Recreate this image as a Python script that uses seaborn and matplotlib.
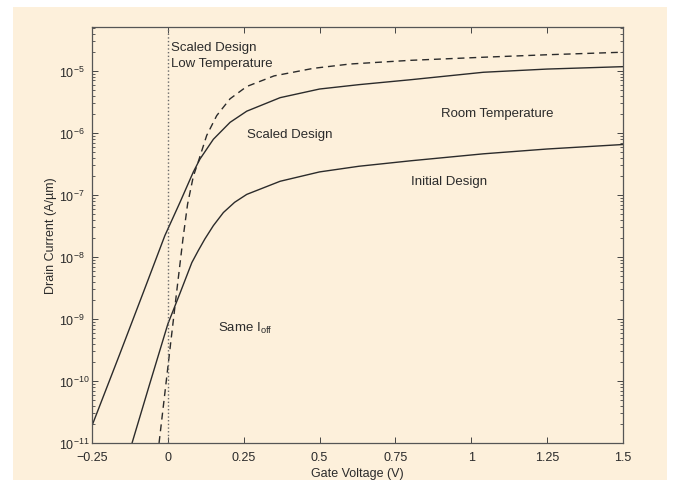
import matplotlib
matplotlib.use("Agg")
import matplotlib.pyplot as plt
import matplotlib.patches as mpatches
from matplotlib.ticker import FixedLocator, FixedFormatter, NullFormatter
import pandas as pd
import seaborn as sns

# ---------- data ----------
scaled_v = [-0.25, -0.16, -0.08, -0.01, 0.04, 0.084, 0.106, 0.15, 0.205, 0.26,
            0.37, 0.50, 0.63, 0.80, 1.04, 1.25, 1.50]
scaled_i = [1.9e-11, 2.6e-10, 2.75e-9, 2.2e-8, 7.6e-8, 2.35e-7, 3.8e-7, 7.9e-7,
            1.48e-6, 2.24e-6, 3.7e-6, 5.1e-6, 6.0e-6, 7.2e-6, 9.5e-6, 1.07e-5,
            1.17e-5]

lowtemp_v = [-0.029, -0.01, 0.01, 0.03, 0.05, 0.065, 0.084, 0.10, 0.128, 0.161,
             0.205, 0.26, 0.35, 0.48, 0.60, 0.80, 1.04, 1.25, 1.50]
lowtemp_i = [1.0e-11, 6.3e-11, 4.4e-10, 3.0e-9, 2.0e-8, 7.1e-8, 2.0e-7, 3.4e-7,
             9.1e-7, 1.9e-6, 3.55e-6, 5.6e-6, 8.3e-6, 1.1e-5, 1.29e-5, 1.48e-5,
             1.66e-5, 1.82e-5, 2.0e-5]

initial_v = [-0.118, -0.06, 0.0, 0.04, 0.079, 0.10, 0.122, 0.15, 0.183, 0.22,
             0.26, 0.37, 0.50, 0.63, 0.80, 1.04, 1.25, 1.50]
initial_i = [1.0e-11, 8.9e-11, 8.3e-10, 2.6e-9, 8.1e-9, 1.26e-8, 1.95e-8, 3.2e-8,
             5.2e-8, 7.6e-8, 1.02e-7, 1.66e-7, 2.35e-7, 2.9e-7, 3.55e-7, 4.6e-7,
             5.5e-7, 6.5e-7]

x_ticks = [-0.25, 0, 0.25, 0.5, 0.75, 1, 1.25, 1.5]
x_tick_labels = ["\u22120.25", "0", "0.25", "0.5", "0.75", "1", "1.25", "1.5"]
y_decades = [-11, -10, -9, -8, -7, -6, -5]
y_top = 5.1e-5

CREAM = "#fdf0db"
INK = "#2b2b2b"

sns.set_theme(style="ticks")
plt.rcParams["font.family"] = ["Liberation Sans", "DejaVu Sans"]
plt.rcParams["mathtext.fontset"] = "custom"
plt.rcParams["mathtext.rm"] = "Liberation Sans"
plt.rcParams["mathtext.it"] = "Liberation Sans:italic"
plt.rcParams["mathtext.bf"] = "Liberation Sans:bold"
plt.rcParams["xtick.direction"] = "in"
plt.rcParams["ytick.direction"] = "in"
plt.rcParams["xtick.top"] = True
plt.rcParams["ytick.right"] = True

fig = plt.figure(figsize=(6.75, 4.81), dpi=100, facecolor="white")
# scanned page area (white margin on the left, top and right)
page = mpatches.Rectangle((13 / 675, 0), (667 - 13) / 675, (481 - 8) / 481,
                          transform=fig.transFigure, facecolor=CREAM,
                          edgecolor="none", zorder=-10)
fig.patches.append(page)
ax = fig.add_axes([92 / 675, 1 - 444 / 481, (623 - 92) / 675, (444 - 28) / 481])
ax.set_facecolor(CREAM)

df_scaled = pd.DataFrame({"v": scaled_v, "i": scaled_i})
df_low = pd.DataFrame({"v": lowtemp_v, "i": lowtemp_i})
df_init = pd.DataFrame({"v": initial_v, "i": initial_i})

sns.lineplot(data=df_scaled, x="v", y="i", ax=ax, color=INK, linewidth=1.0,
             sort=False, estimator=None)
sns.lineplot(data=df_init, x="v", y="i", ax=ax, color=INK, linewidth=1.0,
             sort=False, estimator=None)
sns.lineplot(data=df_low, x="v", y="i", ax=ax, color=INK, linewidth=1.0,
             sort=False, estimator=None, linestyle="--")
ax.lines[-1].set_dashes((5, 3.5))

ax.axvline(0, color="#6a6a6a", linestyle=":", linewidth=1.0)

ax.set_yscale("log")
ax.set_xlim(-0.25, 1.5)
ax.set_ylim(10.0 ** y_decades[0], y_top)

ax.xaxis.set_major_locator(FixedLocator(x_ticks))
ax.xaxis.set_major_formatter(FixedFormatter(x_tick_labels))
# only ticks inside the view, so no hidden labels fall outside the figure
major_y = [10.0 ** e for e in y_decades]
minor_y = [m * 10.0 ** e for e in y_decades for m in range(2, 10) if m * 10.0 ** e < y_top]
ax.yaxis.set_major_locator(FixedLocator(major_y))
ax.yaxis.set_minor_locator(FixedLocator(minor_y))
ax.yaxis.set_minor_formatter(NullFormatter())

ax.tick_params(axis="both", which="major", length=4, width=0.7, colors="#444444",
               labelcolor=INK, labelsize=9)
ax.tick_params(axis="x", which="major", pad=6)
# y labels are left-aligned (the "10" bases line up), as in the scan
ax.tick_params(axis="y", which="major", pad=24)
plt.setp(ax.yaxis.get_majorticklabels(), ha="left")
ax.tick_params(axis="y", which="minor", length=2.2, width=0.6, colors="#444444")
for sp in ax.spines.values():
    sp.set_color("#555555")
    sp.set_linewidth(0.9)

ax.set_xlabel("Gate Voltage (V)", fontsize=9, color=INK, labelpad=3)
ax.set_ylabel("Drain Current (A/\u00b5m)", fontsize=9, color=INK, labelpad=1)

txt = dict(fontsize=9.5, color=INK, va="center", ha="left")
ax.text(0.012, 2.45e-5, "Scaled Design", **txt)
ax.text(0.012, 1.35e-5, "Low Temperature", **txt)
ax.text(0.26, 9.6e-7, "Scaled Design", **txt)
ax.text(0.90, 2.1e-6, "Room Temperature", **txt)
ax.text(0.80, 1.68e-7, "Initial Design", **txt)
ax.text(0.165, 7.2e-10, r"Same I$_{\rm off}$", **txt)

fig.savefig("out.png", dpi=100, facecolor=fig.get_facecolor())
